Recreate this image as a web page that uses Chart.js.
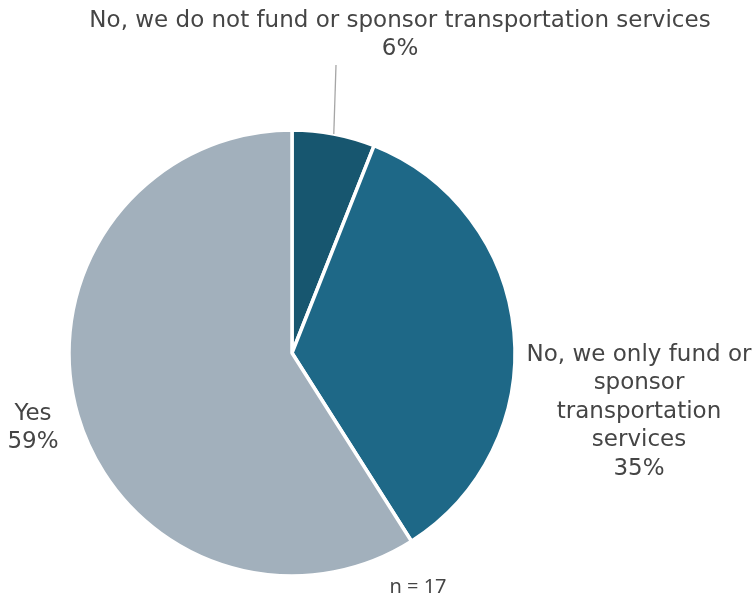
<!DOCTYPE html>
<html>
<head>
    <meta charset="utf-8">
    <title>Transportation services</title>
    <style>
        html, body { margin: 0; padding: 0; background: #ffffff; }
        #wrap { width: 756px; height: 599px; }
    </style>
</head>
<body>
    <div id="wrap">
        <canvas id="myChart" width="756" height="599"></canvas>
    </div>

    <script src="https://cdn.jsdelivr.net/npm/chart.js"></script>

    <script>
        const categories = [
            ['No, we do not fund or sponsor transportation services'],
            ['No, we only fund or', 'sponsor', 'transportation', 'services'],
            ['Yes']
        ];
        const shares = [6, 35, 59];
        const sliceColors = ['#17566f', '#1e6887', '#a2b0bc'];
        const sampleNote = 'n = 17';

        const TEXT_COLOR = '#454545';
        const LABEL_FONT = '23px "DejaVu Sans"';
        const LINE_H = 28.5;

        // where each label block sits (center x, center y of first line)
        const labelSpots = [
            { x: 400, y: 21, leader: { x: 336, y: 65 } },
            { x: 639, y: 355 },
            { x: 33, y: 414 }
        ];

        const sliceLabels = {
            id: 'sliceLabels',
            afterDraw(chart) {
                const ctx = chart.ctx;
                const arcs = chart.getDatasetMeta(0).data;
                ctx.save();
                ctx.font = LABEL_FONT;
                ctx.fillStyle = TEXT_COLOR;
                ctx.textAlign = 'center';
                ctx.textBaseline = 'middle';
                arcs.forEach((arc, i) => {
                    const spot = labelSpots[i];
                    const lines = categories[i].concat([shares[i] + '%']);
                    lines.forEach((t, k) => ctx.fillText(t, spot.x, spot.y + k * LINE_H));
                    if (spot.leader) {
                        const p = arc.getProps(['x', 'y', 'startAngle', 'endAngle', 'outerRadius'], true);
                        const mid = (p.startAngle + p.endAngle) / 2;
                        ctx.strokeStyle = '#a6a6a6';
                        ctx.lineWidth = 1.3;
                        ctx.beginPath();
                        ctx.moveTo(spot.leader.x, spot.leader.y);
                        ctx.lineTo(p.x + Math.cos(mid) * p.outerRadius, p.y + Math.sin(mid) * p.outerRadius);
                        ctx.stroke();
                    }
                });
                ctx.font = '20px "Noto Sans"';
                ctx.fillText(sampleNote, 418, 587);
                ctx.restore();
            }
        };

        const config = {
            type: 'pie',
            data: {
                labels: categories.map(c => c.join(' ')),
                datasets: [{
                    data: shares,
                    backgroundColor: sliceColors,
                    borderColor: '#ffffff',
                    borderWidth: 3.5
                }]
            },
            options: {
                responsive: false,
                animation: false,
                layout: {
                    padding: { left: 67.25, right: 239.25, top: 128.25, bottom: 21.25 }
                },
                plugins: {
                    legend: { display: false },
                    tooltip: { enabled: false }
                }
            },
            plugins: [sliceLabels]
        };

        const ctx = document.getElementById('myChart');
        new Chart(ctx, config);
    </script>
</body>
</html>
